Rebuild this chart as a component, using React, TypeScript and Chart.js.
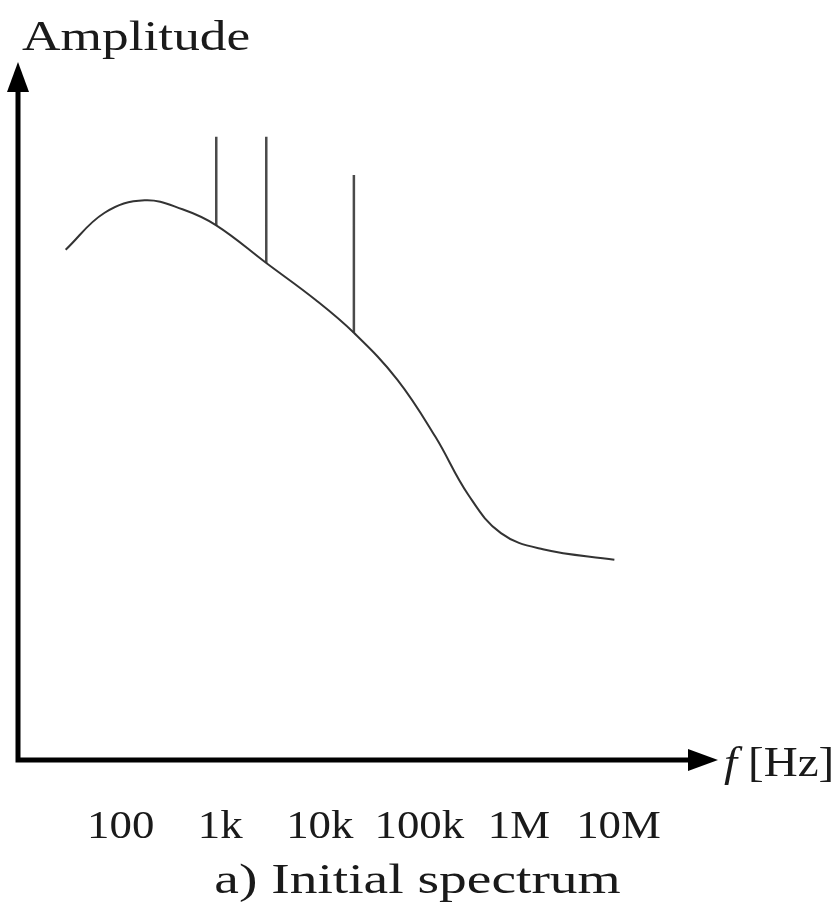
import React, { useEffect, useRef } from "react";
import { Chart, registerables } from "chart.js";

Chart.register(...registerables);

// Spectrum curve (frequency in Hz, amplitude in arbitrary units)
const FREQ = [28, 69, 174, 417, 912, 2900, 9100, 22000, 60000, 145000, 310000, 660000, 1740000, 9100000];
const AMP = [7.31, 7.84, 8.02, 7.89, 7.66, 7.12, 6.59, 6.12, 5.45, 4.63, 3.8, 3.25, 3.02, 2.87];

// Spectral lines (peaks) standing on the curve
const PEAK_FREQ = [912, 2900, 22000];
const PEAK_BASE = [7.66, 7.12, 6.12];
const PEAK_TOP = [8.93, 8.93, 8.38];

// Axis labels
const TICK_FREQ = [100, 1000, 10000, 100000, 1000000, 10000000];
const TICK_LABEL = ["100", "1k", "10k", "100k", "1M", "10M"];

const X_MIN = 9.3;
const X_MAX = 1e8;
const Y_MIN = 0;
const Y_MAX = 10;

const Y_TITLE = "Amplitude";
const X_TITLE_VAR = "f";
const X_TITLE_UNIT = "[Hz]";
const CAPTION = "a) Initial spectrum";

const SERIF = '"Liberation Serif", "DejaVu Serif", serif';

function drawText(ctx: CanvasRenderingContext2D, text: string, x: number, y: number, align: CanvasTextAlign, font: string, sx: number) {
  ctx.save();
  ctx.translate(x, y);
  ctx.scale(sx, 1);
  ctx.font = font;
  ctx.textAlign = align;
  ctx.textBaseline = "alphabetic";
  ctx.fillText(text, 0, 0);
  ctx.restore();
}

const decorPlugin = {
  id: "decor",
  afterDraw(chart: any) {
    const ctx: CanvasRenderingContext2D = chart.ctx;
    const { left, right, top, bottom } = chart.chartArea;
    const xs = chart.scales.x;
    ctx.save();
    // axes
    ctx.strokeStyle = "#000";
    ctx.fillStyle = "#000";
    ctx.lineWidth = 5;
    ctx.lineJoin = "miter";
    ctx.lineCap = "butt";
    const ah = 30;
    const hw = 11;
    ctx.beginPath();
    ctx.moveTo(left, top + ah - 2);
    ctx.lineTo(left, bottom);
    ctx.lineTo(right - ah + 2, bottom);
    ctx.stroke();
    ctx.beginPath();
    ctx.moveTo(left, top);
    ctx.lineTo(left - hw, top + ah);
    ctx.lineTo(left + hw, top + ah);
    ctx.closePath();
    ctx.fill();
    ctx.beginPath();
    ctx.moveTo(right, bottom);
    ctx.lineTo(right - ah, bottom - hw);
    ctx.lineTo(right - ah, bottom + hw);
    ctx.closePath();
    ctx.fill();

    ctx.fillStyle = "#1a1a1a";
    // y title
    drawText(ctx, Y_TITLE, left + 4, top - 12, "left", `42px ${SERIF}`, 1.27);
    // x title
    drawText(ctx, X_TITLE_VAR, right + 6, bottom + 16, "left", `italic 42px ${SERIF}`, 1.12);
    drawText(ctx, X_TITLE_UNIT, right + 30, bottom + 16, "left", `42px ${SERIF}`, 1.12);
    // tick labels
    TICK_FREQ.forEach((f, i) => {
      drawText(ctx, TICK_LABEL[i], xs.getPixelForValue(f), bottom + 78, "center", `40px ${SERIF}`, 1.12);
    });
    // caption
    drawText(ctx, CAPTION, chart.width / 2, bottom + 133, "center", `42px ${SERIF}`, 1.32);
    ctx.restore();
  },
};

export default function App() {
  const ref = useRef<HTMLCanvasElement>(null);
  useEffect(() => {
    document.body.style.margin = "0";
    const canvas = ref.current!;
    const curve = FREQ.map((f, i) => ({ x: f, y: AMP[i] }));
    const peaks: any[] = [];
    PEAK_FREQ.forEach((f, i) => {
      peaks.push({ x: f, y: PEAK_BASE[i] });
      peaks.push({ x: f, y: PEAK_TOP[i] });
      peaks.push({ x: f, y: null });
    });
    const chart = new Chart(canvas, {
      type: "line",
      data: {
        datasets: [
          {
            data: curve,
            borderColor: "#333333",
            borderWidth: 2,
            pointRadius: 0,
            tension: 0.4,
            fill: false,
          },
          {
            data: peaks,
            borderColor: "#4a4a4a",
            borderWidth: 2.5,
            pointRadius: 0,
            tension: 0,
            spanGaps: false,
            fill: false,
          },
        ],
      },
      options: {
        animation: false,
        responsive: false,
        devicePixelRatio: 1,
        layout: { padding: { left: 18, right: 117, top: 62, bottom: 149 } },
        plugins: { legend: { display: false }, tooltip: { enabled: false }, title: { display: false } },
        scales: {
          x: { type: "logarithmic", min: X_MIN, max: X_MAX, display: false },
          y: { type: "linear", min: Y_MIN, max: Y_MAX, display: false },
        },
      },
      plugins: [decorPlugin],
    });
    return () => chart.destroy();
  }, []);
  return (
    <div style={{ width: 835, height: 909, background: "#fff" }}>
      <canvas ref={ref} width={835} height={909} style={{ display: "block" }} />
    </div>
  );
}
